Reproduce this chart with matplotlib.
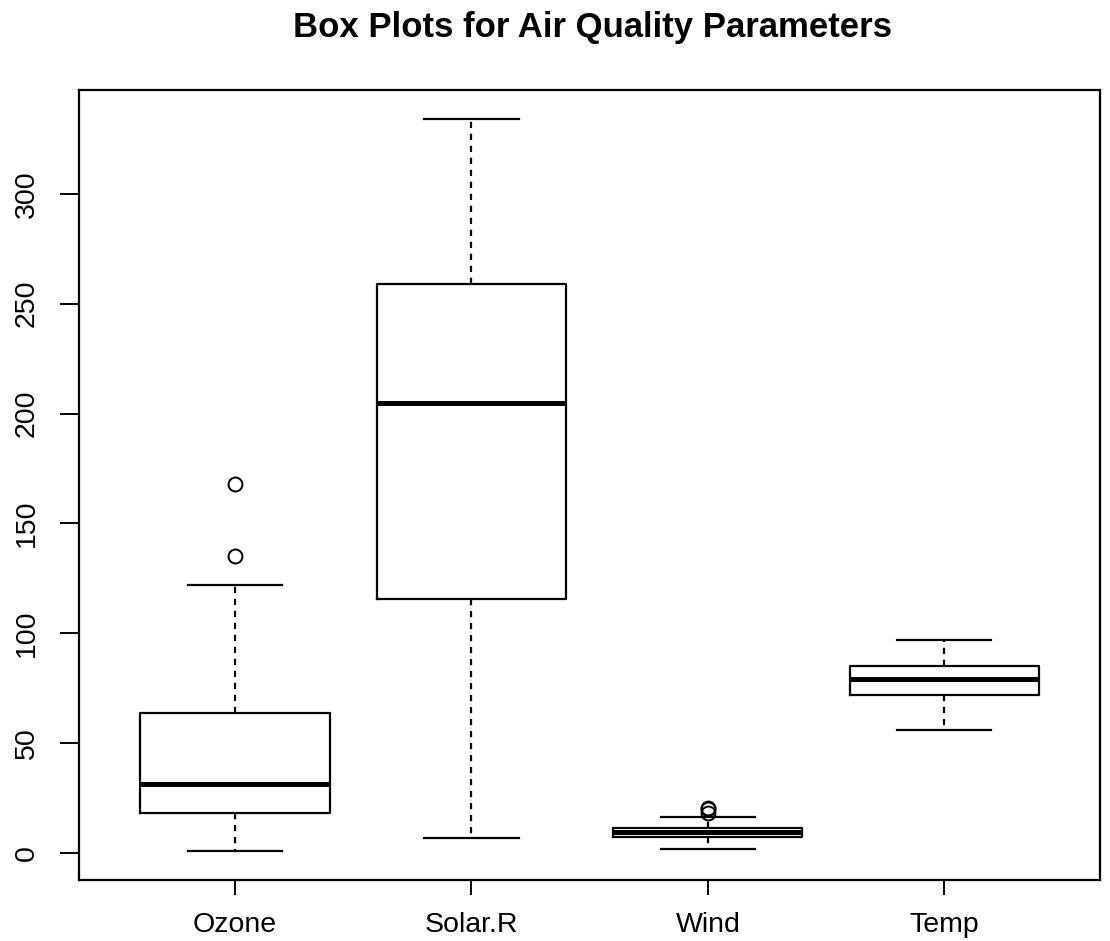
import matplotlib.pyplot as plt

plt.rcParams['font.family'] = ['Liberation Sans', 'DejaVu Sans']

# airquality summary: boxplot statistics per variable
labels = ['Ozone', 'Solar.R', 'Wind', 'Temp']
whislo = [1, 7, 1.7, 56]
q1 = [18, 115.5, 7.4, 72]
med = [31.5, 205, 9.7, 79]
q3 = [63.5, 259, 11.5, 85]
whishi = [122, 334, 16.6, 97]
fliers = [[135, 168], [], [18.4, 20.1, 20.7], []]

stats = []
for i, name in enumerate(labels):
    stats.append(dict(label=name, whislo=whislo[i], q1=q1[i], med=med[i],
                      q3=q3[i], whishi=whishi[i], fliers=fliers[i]))

fig = plt.figure(figsize=(11.1, 9.41), dpi=100)
ax = fig.add_axes([0.0712, 0.0648, 0.92, 0.8396])

ax.bxp(stats, positions=[1, 2, 3, 4], widths=0.8,
       boxprops=dict(color='black', linewidth=1.6),
       medianprops=dict(color='black', linewidth=3.6),
       whiskerprops=dict(color='black', linewidth=1.6, linestyle=(0, (2.8, 2.6))),
       capprops=dict(color='black', linewidth=1.6),
       flierprops=dict(marker='o', markerfacecolor='none', markeredgecolor='black',
                       markersize=10, markeredgewidth=1.4),
       capwidths=0.4)

ax.set_xlim(0.34, 4.66)
ax.set_ylim(-12.3, 347.3)
ax.set_yticks([0, 50, 100, 150, 200, 250, 300])
ax.set_yticklabels(['0', '50', '100', '150', '200', '250', '300'],
                   rotation=90, va='center')
ax.tick_params(axis='x', direction='out', length=11, width=1.4,
               labelsize=20.5, pad=12, colors='black')
ax.tick_params(axis='y', direction='out', length=13.5, width=1.4,
               labelsize=20.5, pad=15, colors='black')
for s in ax.spines.values():
    s.set_linewidth(1.6)

fig.text(0.5342, 1 - 28 / 941, 'Box Plots for Air Quality Parameters',
         fontsize=25, fontweight='bold', ha='center', va='center')

fig.savefig('out.png', dpi=100)
